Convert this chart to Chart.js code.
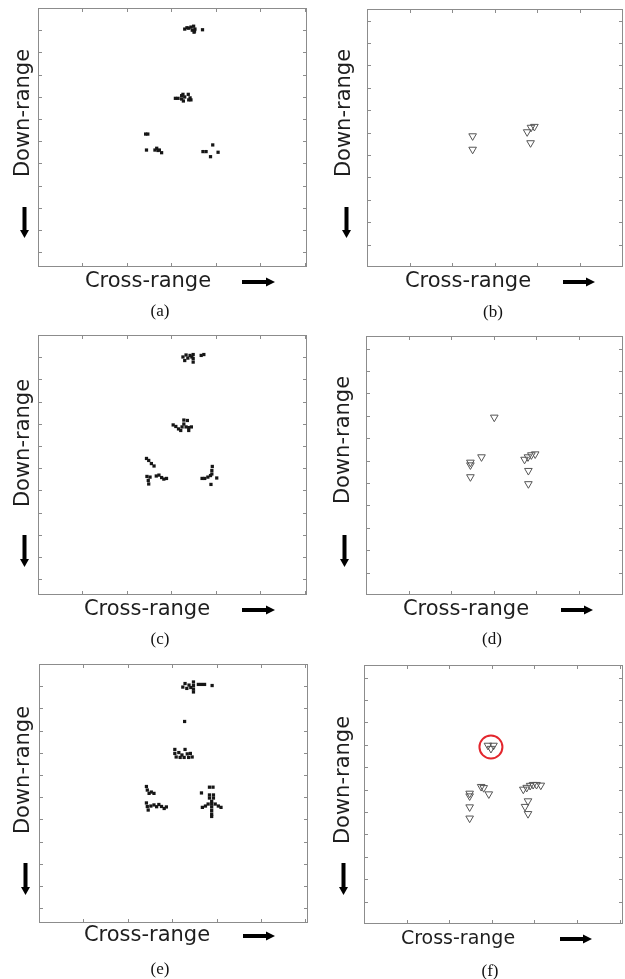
<!DOCTYPE html>
<html>
<head>
<meta charset="utf-8">
<script src="https://cdn.jsdelivr.net/npm/chart.js@4.4.0/dist/chart.umd.min.js"></script>
<style>
  html, body { margin: 0; padding: 0; background: #fff; }
  #fig { position: relative; width: 625px; height: 979px; }
  #fig canvas { position: absolute; }
</style>
</head>
<body>
<div id="fig">
  <canvas id="panelA"></canvas>
  <canvas id="panelB"></canvas>
  <canvas id="panelC"></canvas>
  <canvas id="panelD"></canvas>
  <canvas id="panelE"></canvas>
  <canvas id="panelF"></canvas>
</div>
<script>
// ============================
// DATA (cross-range, down-range), in tick units
// ============================
const xTicks = [1, 2, 3, 4, 5, 6];
const yTicks = [1, 2, 3, 4, 5, 6, 7, 8, 9, 10, 11];

// (a) image pixels
const pixelsA = [
  [3.30, 11.05], [3.35, 11.11], [3.39, 11.09], [3.44, 11.14], [3.50, 11.18], [3.53, 11.05],
  [3.51, 10.91], [3.47, 11.00], [3.52, 10.96], [3.70, 11.02],
  [3.09, 7.93], [3.15, 7.93], [3.23, 8.05], [3.23, 7.90], [3.27, 7.81], [3.30, 7.99],
  [3.38, 8.11], [3.26, 8.11], [3.39, 7.86], [3.44, 7.86], [3.42, 7.95],
  [2.42, 6.32], [2.47, 6.32], [2.44, 5.60], [2.63, 5.60], [2.67, 5.68], [2.73, 5.60],
  [2.78, 5.48], [2.70, 5.58],
  [3.71, 5.53], [3.78, 5.53], [3.93, 5.83], [3.88, 5.30], [4.05, 5.50]
];
// (c) image pixels
const pixelsC = [
  [3.26, 11.01], [3.30, 10.85], [3.33, 11.10], [3.37, 10.96], [3.42, 11.08], [3.46, 11.01],
  [3.49, 11.12], [3.49, 10.94], [3.49, 10.78], [3.67, 11.08], [3.73, 11.12],
  [3.04, 7.95], [3.10, 7.88], [3.16, 7.77], [3.21, 7.70], [3.24, 7.86], [3.28, 7.99],
  [3.28, 8.17], [3.36, 8.15], [3.33, 7.86], [3.39, 7.83], [3.45, 7.86], [3.39, 7.70],
  [2.44, 6.44], [2.49, 6.35], [2.55, 6.21], [2.61, 6.10], [2.45, 5.63], [2.52, 5.60],
  [2.48, 5.45], [2.49, 5.29], [2.66, 5.65], [2.72, 5.69], [2.78, 5.58], [2.83, 5.51], [2.89, 5.54],
  [3.92, 6.08], [3.91, 5.90], [3.91, 5.74], [3.69, 5.54], [3.75, 5.54], [3.82, 5.60],
  [3.88, 5.67], [4.02, 5.56], [3.89, 5.27]
];
// (e) image pixels
const pixelsE = [
  [3.24, 10.96], [3.29, 11.12], [3.33, 10.90], [3.38, 11.05], [3.42, 10.94], [3.48, 11.19],
  [3.48, 11.03], [3.48, 10.87], [3.48, 10.74], [3.59, 11.08], [3.66, 11.08], [3.73, 11.08], [3.90, 11.03],
  [3.28, 9.41],
  [3.06, 8.15], [3.06, 7.97], [3.09, 7.81], [3.15, 8.01], [3.22, 7.90], [3.29, 8.15],
  [3.34, 7.95], [3.41, 7.97], [3.45, 7.81], [3.37, 7.79], [3.18, 7.79], [3.27, 7.79],
  [2.42, 6.48], [2.44, 6.32], [2.48, 6.17], [2.53, 6.23], [2.59, 6.17],
  [2.42, 5.74], [2.44, 5.58], [2.46, 5.42], [2.52, 5.60], [2.59, 5.65], [2.65, 5.57],
  [2.70, 5.67], [2.76, 5.58], [2.82, 5.49], [2.87, 5.56],
  [3.84, 6.45], [3.92, 6.45], [3.66, 6.19], [3.84, 6.10], [3.93, 6.10], [3.84, 5.96], [3.93, 5.96],
  [3.89, 5.81], [3.89, 5.69], [3.89, 5.56], [3.89, 5.40], [3.89, 5.24], [3.89, 5.13],
  [3.68, 5.54], [3.75, 5.60], [3.81, 5.69], [3.97, 5.69], [4.04, 5.60], [4.10, 5.54]
];

// (b) detections
const detectB = [
  [2.48, 5.85], [2.48, 5.25], [3.76, 6.03], [3.85, 6.23], [3.93, 6.27], [3.84, 5.54]
];
// (d) detections
const detectD = [
  [3.01, 7.93], [2.71, 6.16], [2.45, 5.92], [2.45, 5.80], [2.45, 5.27],
  [3.72, 6.05], [3.80, 6.16], [3.88, 6.25], [3.97, 6.29], [3.81, 5.55], [3.81, 4.96]
];
// (f) detections
const detectF = [
  [2.91, 7.97], [3.04, 7.97], [2.98, 7.83],
  [2.48, 5.83], [2.48, 5.71], [2.48, 5.22], [2.48, 4.72], [2.75, 6.13], [2.81, 6.08], [2.93, 5.80],
  [3.74, 6.01], [3.82, 6.09], [3.90, 6.18], [3.97, 6.22], [4.05, 6.22], [4.15, 6.19],
  [3.85, 5.49], [3.78, 5.24], [3.85, 4.92]
];
// (f) highlighted detection
const circledF = [[2.98, 7.90]];

// ============================
// PANEL LAYOUT
// ============================
const panels = [
  { id: "panelA", tag: "(a)", pts: pixelsA, kind: "pixel", box: [0, 0, 312, 328],
    pad: { left: 38, top: 8, right: 5, bottom: 61 }, x: [0, 6.05], y: [0.33, 12],
    decor: { downX: -14, downY: 105, arrX: -13.5, arrY: [199, 230], crossX: 110, crossY: 15, crossSize: 21, arrR: [-65, -32], capX: 122, capY: 45 } },
  { id: "panelB", tag: "(b)", pts: detectB, kind: "tri", box: [312, 0, 313, 328],
    pad: { left: 55, top: 9, right: 2, bottom: 61 }, x: [0, 6.01], y: [0, 11.52],
    decor: { downX: -22, downY: 104, arrX: -20.5, arrY: [198, 229], crossX: 101, crossY: 15, crossSize: 21, arrR: [-60, -28], capX: 126, capY: 46 } },
  { id: "panelC", tag: "(c)", pts: pixelsC, kind: "pixel", box: [0, 328, 312, 327],
    pad: { left: 38, top: 7, right: 5, bottom: 60 }, x: [0, 6.05], y: [0.29, 12],
    decor: { downX: -14, downY: 108, arrX: -13.5, arrY: [200, 232], crossX: 109, crossY: 15, crossSize: 21, arrR: [-65, -32], capX: 122, capY: 45 } },
  { id: "panelD", tag: "(d)", pts: detectD, kind: "tri", box: [312, 328, 313, 327],
    pad: { left: 54, top: 8, right: 2, bottom: 60 }, x: [0, 6.03], y: [0, 11.56],
    decor: { downX: -22.5, downY: 104, arrX: -21.5, arrY: [199, 231], crossX: 100, crossY: 15, crossSize: 21, arrR: [-62, -30], capX: 126, capY: 45 } },
  { id: "panelE", tag: "(e)", pts: pixelsE, kind: "pixel", box: [0, 655, 312, 324],
    pad: { left: 39, top: 9, right: 4, bottom: 56 }, x: [0, 6.06], y: [0.33, 12],
    decor: { downX: -15, downY: 106, arrX: -13.5, arrY: [199, 231], crossX: 108, crossY: 13, crossSize: 21, arrR: [-65, -33], capX: 121, capY: 47 } },
  { id: "panelF", tag: "(f)", pts: detectF, kind: "tri", box: [312, 655, 313, 324],
    pad: { left: 52, top: 10, right: 2, bottom: 55 }, x: [0, 6.08], y: [0, 11.56],
    decor: { downX: -20.5, downY: 115, arrX: -20.5, arrY: [198, 230], crossX: 94, crossY: 15, crossSize: 19, arrR: [-63, -31], capX: 126, capY: 48 } }
];

// ============================
// FRAME, INWARD TICKS, LABELS, ARROWS
// ============================
const figureDecor = {
  id: "figureDecor",
  beforeDatasetsDraw(chart, args, o) {
    const { ctx, chartArea: a, scales } = chart;
    ctx.save();
    ctx.strokeStyle = "#8c8c8c";
    ctx.lineWidth = 1;
    ctx.strokeRect(a.left + 0.5, a.top + 0.5, a.width - 1, a.height - 1);
    ctx.beginPath();
    xTicks.forEach(v => {
      const px = Math.round(scales.x.getPixelForValue(v)) + 0.5;
      if (px > a.right - 1) return;
      ctx.moveTo(px, a.top); ctx.lineTo(px, a.top + 4);
      ctx.moveTo(px, a.bottom); ctx.lineTo(px, a.bottom - 4);
    });
    yTicks.forEach(v => {
      const py = Math.round(scales.y.getPixelForValue(v)) + 0.5;
      ctx.moveTo(a.left, py); ctx.lineTo(a.left + 4, py);
      ctx.moveTo(a.right, py); ctx.lineTo(a.right - 4, py);
    });
    ctx.stroke();
    ctx.restore();
  },
  afterDatasetsDraw(chart, args, o) {
    const { ctx, chartArea: a } = chart;
    ctx.save();
    ctx.fillStyle = "#1e1e1e";

    // "Down-range" (rotated)
    ctx.font = '21px "DejaVu Sans", Verdana, sans-serif';
    ctx.textAlign = "center";
    ctx.textBaseline = "middle";
    ctx.save();
    ctx.translate(a.left + o.downX, a.top + o.downY);
    ctx.rotate(-Math.PI / 2);
    ctx.fillText("Down-range", 0, 0);
    ctx.restore();

    // "Cross-range"
    ctx.font = o.crossSize + 'px "DejaVu Sans", Verdana, sans-serif';
    ctx.fillText("Cross-range", a.left + o.crossX, a.bottom + o.crossY);

    // down arrow
    ctx.fillStyle = "#000";
    const ax = a.left + o.arrX, ay0 = a.top + o.arrY[0], ay1 = a.top + o.arrY[1];
    ctx.fillRect(ax - 2, ay0, 4, ay1 - ay0 - 7);
    ctx.beginPath();
    ctx.moveTo(ax - 4.5, ay1 - 8); ctx.lineTo(ax + 4.5, ay1 - 8); ctx.lineTo(ax, ay1);
    ctx.closePath(); ctx.fill();

    // right arrow
    const rx0 = a.right + o.arrR[0], rx1 = a.right + o.arrR[1], ry = a.bottom + o.crossY;
    ctx.fillRect(rx0, ry - 2, rx1 - rx0 - 7, 4);
    ctx.beginPath();
    ctx.moveTo(rx1 - 9, ry - 4.5); ctx.lineTo(rx1 - 9, ry + 4.5); ctx.lineTo(rx1, ry);
    ctx.closePath(); ctx.fill();

    // caption
    ctx.fillStyle = "#111";
    ctx.font = '17px "Liberation Serif", "Times New Roman", serif';
    ctx.fillText(chart.options.plugins.figureDecor.tag, a.left + o.capX, a.bottom + o.capY);
    ctx.restore();
  }
};

// ============================
// BUILD ONE PANEL
// ============================
function buildPanel(p) {
  const canvas = document.getElementById(p.id);
  canvas.width = p.box[2];
  canvas.height = p.box[3];
  canvas.style.left = p.box[0] + "px";
  canvas.style.top = p.box[1] + "px";

  const datasets = [];
  if (p.kind === "pixel") {
    datasets.push({
      data: p.pts.map(([x, y]) => ({ x, y })),
      pointStyle: "rect",
      pointRadius: 2.3,
      borderWidth: 0,
      backgroundColor: "#161616"
    });
  } else {
    datasets.push({
      data: p.pts.map(([x, y]) => ({ x, y })),
      pointStyle: "triangle",
      rotation: 180,
      pointRadius: 4.4,
      borderWidth: 1,
      borderColor: "#555555",
      backgroundColor: "rgba(255,255,255,0)"
    });
  }
  if (p.id === "panelF") {
    datasets.push({
      data: circledF.map(([x, y]) => ({ x, y })),
      pointStyle: "circle",
      pointRadius: 11.5,
      borderWidth: 2,
      borderColor: "#e3262d",
      backgroundColor: "rgba(255,255,255,0)"
    });
  }

  return new Chart(canvas.getContext("2d"), {
    type: "scatter",
    data: { datasets: datasets },
    options: {
      responsive: false,
      animation: false,
      devicePixelRatio: 1,
      layout: { padding: p.pad, autoPadding: false },
      scales: {
        x: { type: "linear", display: false, min: p.x[0], max: p.x[1] },
        y: { type: "linear", display: false, min: p.y[0], max: p.y[1] }
      },
      plugins: {
        legend: { display: false },
        tooltip: { enabled: false },
        figureDecor: Object.assign({ tag: p.tag }, p.decor)
      }
    },
    plugins: [figureDecor]
  });
}

panels.forEach(buildPanel);
</script>
</body>
</html>
